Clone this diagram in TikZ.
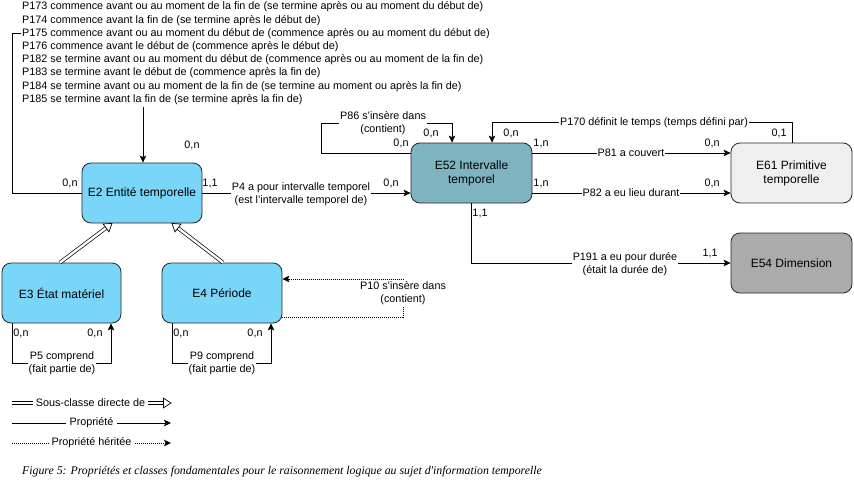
\documentclass[tikz,border=0pt]{standalone}
\usepackage{fontspec}
\setmainfont{Liberation Sans}
\newfontfamily\capfont{Liberation Serif}
\usetikzlibrary{arrows.meta,calc}
\definecolor{cblue}{HTML}{7AD6F9}
\definecolor{cteal}{HTML}{7DB4C0}
\definecolor{clight}{HTML}{EFEFEF}
\definecolor{cgray}{HTML}{ABABAB}
\begin{document}
\begin{tikzpicture}[x=1pt,y=-1pt,
  cls/.style={draw=black!85, rounded corners=9pt, minimum width=120pt, minimum height=60pt,
    font=\fontsize{12}{14}\selectfont, align=center, line width=0.8pt, inner sep=2pt},
  lbl/.style={font=\fontsize{10.8}{13.4}\selectfont, inner sep=1pt, align=center},
  lblw/.style={lbl, fill=white},
  txtline/.style={font=\fontsize{10.8}{13.2}\selectfont, inner sep=1pt, anchor=west},
  plain/.style={line width=0.8pt},
  prop/.style={line width=0.8pt, -{Stealth[length=7pt,width=6.5pt,inset=1.5pt]}},
  inh/.style={prop, dash pattern=on 1pt off 1pt},
  dbl/.style={double, double distance=2.4pt, line width=0.7pt},
  head/.style={fill=white, line width=0.7pt, line join=miter}
]
\useasboundingbox (0,0) rectangle (854,487);

% top block of property texts
\node[txtline] (l1) at (21,7)   {P173 commence avant ou au moment de la fin de (se termine après ou au moment du début de)};
\node[txtline] (l2) at (21,20.2) {P174 commence avant la fin de (se termine après le début de)};
\node[txtline] (l3) at (21,33.4) {P175 commence avant ou au moment du début de (commence après ou au moment du début de)};
\node[txtline] (l4) at (21,46.6) {P176 commence avant le début de (commence après le début de)};
\node[txtline] (l5) at (21,59.8) {P182 se termine avant ou au moment du début de (commence après ou au moment de la fin de)};
\node[txtline] (l6) at (21,73)   {P183 se termine avant le début de (commence après la fin de)};
\node[txtline] (l7) at (21,86.2) {P184 se termine avant ou au moment de la fin de (se termine au moment ou après la fin de)};
\node[txtline] (l8) at (21,99.4) {P185 se termine avant la fin de (se termine après la fin de)};
\coordinate (tb) at (143,107);

% classes
\node[cls, fill=cblue]  (e2)  at (142,193)   {E2 Entité temporelle};
\node[cls, fill=cblue, minimum width=119pt]  (e3)  at (61.5,293)  {E3 État matériel};
\node[cls, fill=cblue]  (e4)  at (222,293)   {E4 Période};
\node[cls, fill=cteal, minimum width=121pt]  (e52) at (471.5,173) {E52 Intervalle\\temporel};
\node[cls, fill=clight, minimum width=121pt] (e61) at (791.5,173) {E61 Primitive\\temporelle};
\node[cls, fill=cgray, minimum width=121pt]  (e54) at (791.5,263) {E54 Dimension};

% connectors to E2
\draw[prop] (tb) -- (tb |- e2.north);
\draw[plain] (l3.west) -- ++(-9,0) |- (e2.west);
\node[lbl] (c1) at (70,183) {0,n};
\node[lbl] (c2) at (192,145) {0,n};

% P4
\draw[prop] (e2.east) -- (e2.east -| e52.west);
\node[lblw] (p4) at (301,194) {P4 a pour intervalle temporel\\(est l’intervalle temporel de)};
\node[lbl] (c3) at (210,183) {1,1};
\node[lbl] (c4) at (391,183) {0,n};

% P86 self loop
\draw[prop] ([yshift=20pt]e52.west) -- ++(-89,0) -- ++(0,-30) -| ([xshift=-19.5pt]e52.north);
\node[lblw] (p86) at (383,123) {P86 s'insère dans\\(contient)};
\node[lbl] (c5) at (401,143) {0,n};
\node[lbl] (c6) at (431,133) {0,n};

% P170
\draw[prop] ([xshift=0.5pt]e61.north) -- ++(0,-20) -| ([xshift=20.5pt]e52.north);
\node[lblw] (p170) at (654,123) {P170 définit le temps (temps défini par)};
\node[lbl] (c7) at (511,133) {0,n};
\node[lbl] (c8) at (779,133) {0,1};

% P81, P82
\draw[prop] ([yshift=20pt]e52.east) -- ([yshift=20pt]e61.west);
\node[lblw] (p81) at (631,153) {P81 a couvert};
\draw[prop] ([yshift=-20pt]e52.east) -- ([yshift=-20pt]e61.west);
\node[lblw] (p82) at (631,193) {P82 a eu lieu durant};
\node[lbl] (c9) at (541,143) {1,n};
\node[lbl] (c10) at (541,183) {1,n};
\node[lbl] (c11) at (712,143) {0,n};
\node[lbl] (c12) at (712,183) {0,n};

% P191
\draw[prop] (e52.south) |- (e54.west);
\node[lblw] (p191) at (625,264) {P191 a eu pour durée\\(était la durée de)};
\node[lbl] (c13) at (480,213) {1,1};
\node[lbl] (c14) at (710,253) {1,1};

% subclass arrows
\coordinate (s1) at ([xshift=-1.5pt]e3.north);
\coordinate (s2) at ([xshift=1pt]e4.north);
\coordinate (t1) at ([xshift=-30pt]e2.south);
\coordinate (t2) at ([xshift=30pt]e2.south);
\draw[dbl] (s1) -- ($(t1)!6pt!(s1)$);
\draw[head] (t1) -- ($(t1)!9pt!33:(s1)$) -- ($(t1)!9pt!-33:(s1)$) -- cycle;
\draw[dbl] (s2) -- ($(t2)!6pt!(s2)$);
\draw[head] (t2) -- ($(t2)!9pt!33:(s2)$) -- ($(t2)!9pt!-33:(s2)$) -- cycle;

% E3 self loop
\draw[prop] ([xshift=-49.5pt]e3.south) -- ++(0,40) -| ([xshift=49.5pt]e3.south);
\node[lblw] (p5) at (62,363) {P5 comprend\\(fait partie de)};
\node[lbl] (c15) at (21,333) {0,n};
\node[lbl] (c16) at (95,333) {0,n};

% E4 self loop
\draw[prop] ([xshift=-50pt]e4.south) -- ++(0,40) -| ([xshift=49pt]e4.south);
\node[lblw] (p9) at (222,363) {P9 comprend\\(fait partie de)};
\node[lbl] (c17) at (181,333) {0,n};
\node[lbl] (c18) at (255,333) {0,n};

% P10 inherited
\draw[inh] ([yshift=-24pt]e4.east) -- ++(121,0) |- ([yshift=14pt]e4.east);
\node[lblw] (p10) at (403,293) {P10 s'insère dans\\(contient)};

% legend
\node[lbl, inner xsep=2.5pt] (lg1) at (90.5,403) {Sous-classe directe de};
\coordinate (a1) at (12,403);
\coordinate (b1) at (171,403);
\draw[dbl] (a1) -- (lg1.west);
\draw[dbl] (lg1.east) -- ($(b1)!6pt!(lg1.east)$);
\draw[head] (b1) -- ($(b1)!9pt!33:(lg1.east)$) -- ($(b1)!9pt!-33:(lg1.east)$) -- cycle;

\node[lbl, inner xsep=3pt] (lg2) at (91.5,423) {Propriété};
\coordinate (a2) at (12,423);
\coordinate (b2) at (171,423);
\draw[plain] (a2) -- (lg2.west);
\draw[prop] (lg2.east) -- (b2);

\node[lbl, inner xsep=3pt] (lg3) at (91.5,443) {Propriété héritée};
\coordinate (a3) at (12,443);
\coordinate (b3) at (171,443);
\draw[plain, dash pattern=on 1pt off 1pt] (a3) -- (lg3.west);
\draw[inh] (lg3.east) -- (b3);

% caption
\node[anchor=west, inner sep=1pt, font=\capfont\itshape\fontsize{11.8}{14}\selectfont] (cap) at (21,472)
  {Figure 5: Propriétés et classes fondamentales pour le raisonnement logique au sujet d'information temporelle};
\end{tikzpicture}
\end{document}
